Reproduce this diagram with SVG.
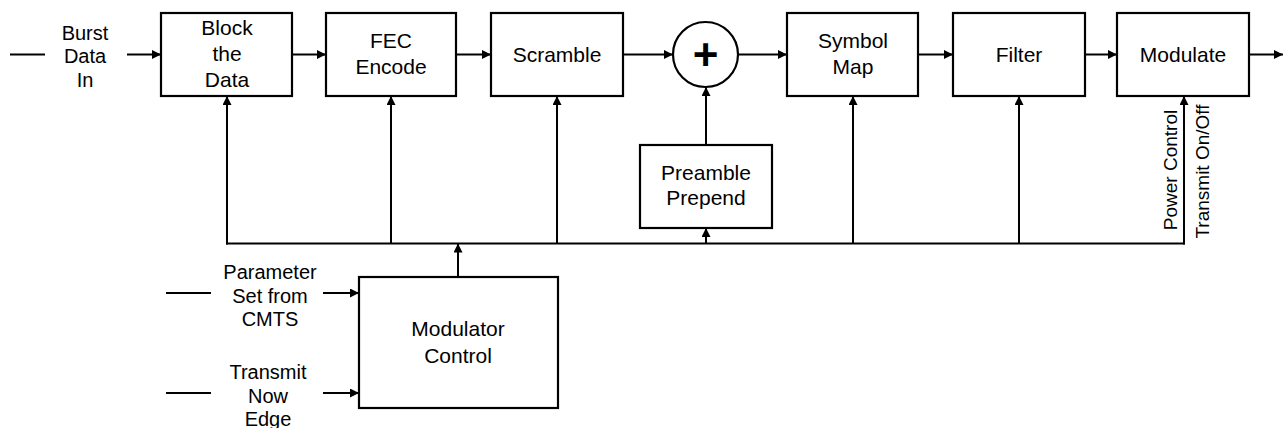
<svg xmlns="http://www.w3.org/2000/svg" width="1284" height="428" viewBox="0 0 1284 428">
<style>
.box{fill:#fff;stroke:#000;stroke-width:2.2}
.ln{fill:none;stroke:#000;stroke-width:2}
.t{font-family:"Liberation Sans",Arial,sans-serif;font-size:21px;text-anchor:middle;fill:#000}
.s{font-family:"Liberation Sans",Arial,sans-serif;font-size:20px;text-anchor:middle;fill:#000}
.r{font-family:"Liberation Sans",Arial,sans-serif;font-size:19px;text-anchor:middle;fill:#000}
</style>
<defs>
<marker id="ah" viewBox="0 0 10 10" refX="10" refY="5" markerWidth="10" markerHeight="9" markerUnits="userSpaceOnUse" orient="auto">
<path d="M0,0 L10,5 L0,10 z" fill="#000"/>
</marker>
</defs>
<rect width="1284" height="428" fill="#fff"/>
<g id="connectors">
<line class="ln" x1="10" y1="54.5" x2="45" y2="54.5"/>
<line class="ln" x1="127" y1="54.5" x2="161" y2="54.5" marker-end="url(#ah)"/>
<line class="ln" x1="292" y1="54.5" x2="326" y2="54.5" marker-end="url(#ah)"/>
<line class="ln" x1="456" y1="54.5" x2="491" y2="54.5" marker-end="url(#ah)"/>
<line class="ln" x1="623" y1="54.5" x2="673" y2="54.5" marker-end="url(#ah)"/>
<line class="ln" x1="738" y1="54.5" x2="787" y2="54.5" marker-end="url(#ah)"/>
<line class="ln" x1="918" y1="54.5" x2="953" y2="54.5" marker-end="url(#ah)"/>
<line class="ln" x1="1085" y1="54.5" x2="1117" y2="54.5" marker-end="url(#ah)"/>
<line class="ln" x1="1249" y1="54.5" x2="1283" y2="54.5" marker-end="url(#ah)"/>
<line class="ln" x1="226" y1="243.5" x2="1185" y2="243.5"/>
<line class="ln" x1="227" y1="244.5" x2="227" y2="96" marker-end="url(#ah)"/>
<line class="ln" x1="391" y1="243.5" x2="391" y2="96" marker-end="url(#ah)"/>
<line class="ln" x1="557" y1="243.5" x2="557" y2="96" marker-end="url(#ah)"/>
<line class="ln" x1="853" y1="243.5" x2="853" y2="96" marker-end="url(#ah)"/>
<line class="ln" x1="1019" y1="243.5" x2="1019" y2="96" marker-end="url(#ah)"/>
<line class="ln" x1="1184" y1="244.5" x2="1184" y2="96" marker-end="url(#ah)"/>
<line class="ln" x1="706" y1="243.5" x2="706" y2="228" marker-end="url(#ah)"/>
<line class="ln" x1="706" y1="145" x2="706" y2="87" marker-end="url(#ah)"/>
<line class="ln" x1="458" y1="277" x2="458" y2="243.5" marker-end="url(#ah)"/>
<line class="ln" x1="166" y1="293" x2="211" y2="293"/>
<line class="ln" x1="323" y1="293" x2="359" y2="293" marker-end="url(#ah)"/>
<line class="ln" x1="166" y1="393" x2="211" y2="393"/>
<line class="ln" x1="323" y1="393" x2="359" y2="393" marker-end="url(#ah)"/>
</g>
<g id="burst-label">
<text class="s" x="85" y="39.5">Burst</text>
<text class="s" x="85" y="63">Data</text>
<text class="s" x="85" y="86.5">In</text>
</g>
<g id="block">
<rect class="box" x="161" y="13" width="131" height="83"/>
<text class="t" x="227" y="35">Block</text>
<text class="t" x="227" y="61">the</text>
<text class="t" x="227" y="87">Data</text>
</g>
<g id="fec">
<rect class="box" x="326" y="13" width="130" height="83"/>
<text class="t" x="391" y="48">FEC</text>
<text class="t" x="391" y="74">Encode</text>
</g>
<g id="scramble">
<rect class="box" x="491" y="13" width="132" height="83"/>
<text class="t" x="557" y="61.5">Scramble</text>
</g>
<g id="sum">
<circle cx="705.5" cy="54.5" r="32.5" fill="#fff" stroke="#000" stroke-width="2.2"/>
<text x="705.5" y="70" font-family="Liberation Sans,Arial,sans-serif" font-size="44" font-weight="bold" text-anchor="middle">+</text>
</g>
<g id="preamble">
<rect class="box" x="640" y="145" width="132" height="83"/>
<text class="t" x="706" y="180">Preamble</text>
<text class="t" x="706" y="205">Prepend</text>
</g>
<g id="symbolmap">
<rect class="box" x="787" y="13" width="131" height="83"/>
<text class="t" x="853" y="48">Symbol</text>
<text class="t" x="853" y="73.5">Map</text>
</g>
<g id="filter">
<rect class="box" x="953" y="13" width="132" height="83"/>
<text class="t" x="1019" y="61.5">Filter</text>
</g>
<g id="modulate">
<rect class="box" x="1117" y="13" width="132" height="83"/>
<text class="t" x="1183" y="61.5">Modulate</text>
</g>
<g id="modulate-labels">
<text class="r" transform="translate(1177,170) rotate(-90)">Power Control</text>
<text class="r" transform="translate(1209,171.5) rotate(-90)">Transmit On/Off</text>
</g>
<g id="param-label">
<text class="s" x="270" y="279">Parameter</text>
<text class="s" x="270" y="302.5">Set from</text>
<text class="s" x="270" y="326">CMTS</text>
</g>
<g id="transmit-label">
<text class="s" x="268" y="379">Transmit</text>
<text class="s" x="268" y="403">Now</text>
<text class="s" x="268" y="426">Edge</text>
</g>
<g id="modctrl">
<rect class="box" x="359" y="277" width="199" height="131"/>
<text class="t" x="458" y="336">Modulator</text>
<text class="t" x="458" y="362.5">Control</text>
</g>
</svg>
